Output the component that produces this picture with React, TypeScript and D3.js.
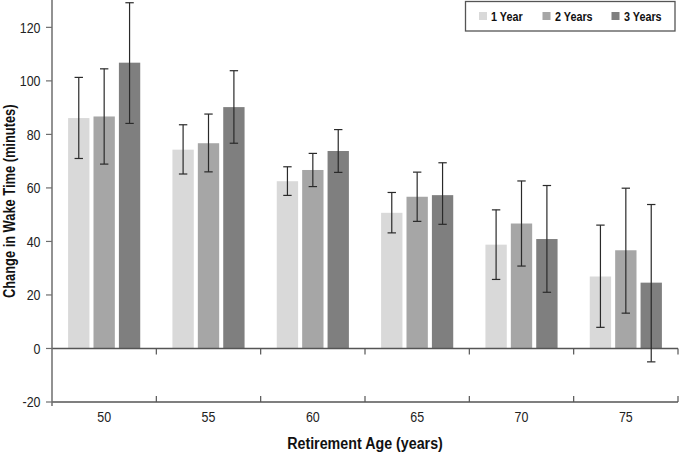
import React from "react";
import * as d3 from "d3";

const ages = ["50", "55", "60", "65", "70", "75"];
const seriesNames = ["1 Year", "2 Years", "3 Years"];
const seriesColors = ["#d9d9d9", "#a6a6a6", "#7f7f7f"];

const oneYear = [86.1, 74.3, 62.5, 50.7, 38.8, 26.9];
const oneYearLow = [71.0, 65.2, 57.2, 43.2, 25.8, 7.9];
const oneYearHigh = [101.3, 83.6, 67.9, 58.3, 51.8, 46.1];

const twoYears = [86.7, 76.7, 66.7, 56.7, 46.7, 36.7];
const twoYearsLow = [68.9, 66.0, 60.5, 47.5, 30.8, 13.2];
const twoYearsHigh = [104.5, 87.6, 72.9, 65.9, 62.6, 59.9];

const threeYears = [106.8, 90.2, 73.8, 57.3, 40.9, 24.6];
const threeYearsLow = [84.1, 76.7, 65.8, 46.4, 21.0, -5.0];
const threeYearsHigh = [129.2, 103.8, 81.8, 69.4, 60.9, 53.8];

const yTicks = [-20, 0, 20, 40, 60, 80, 100, 120];

const W = 679;
const H = 455;
const left = 52;
const right = 678;
const top = 0.6;
const bottom = 402;

const FONT = "'Liberation Sans', Arial, sans-serif";

type NTextProps = {
  x: number;
  y: number;
  sx?: number;
  size: number;
  bold?: boolean;
  anchor?: "start" | "middle" | "end";
  rotate?: number;
  children: React.ReactNode;
};

function NText({ x, y, sx = 0.83, size, bold, anchor = "start", rotate = 0, children }: NTextProps) {
  return (
    <text
      transform={`translate(${x},${y}) rotate(${rotate}) scale(${sx},1)`}
      textAnchor={anchor}
      fontFamily={FONT}
      fontWeight={bold ? "bold" : "normal"}
      fontSize={size}
      fill={bold ? "#111" : "#222"}
    >
      {children}
    </text>
  );
}

export default function App() {
  const x = d3.scaleBand<string>().domain(ages).range([left, right]).paddingInner(0).paddingOuter(0);
  const bw = x.bandwidth();
  const inner = d3
    .scaleBand<string>()
    .domain(seriesNames)
    .range([16.1, bw - 16.1])
    .paddingInner(0.16)
    .paddingOuter(0);
  const y = d3.scaleLinear().domain([-20, 130]).range([bottom, top]);

  const series = [
    { name: seriesNames[0], values: oneYear, low: oneYearLow, high: oneYearHigh, color: seriesColors[0] },
    { name: seriesNames[1], values: twoYears, low: twoYearsLow, high: twoYearsHigh, color: seriesColors[1] },
    { name: seriesNames[2], values: threeYears, low: threeYearsLow, high: threeYearsHigh, color: seriesColors[2] },
  ];

  const boundaries = ages.map((a) => (x(a) as number) + bw);
  const axisColor = "#6e6e6e";
  const y0 = y(0);

  const legendItems = [
    { sx: 479, tx: 491 },
    { sx: 542.5, tx: 555 },
    { sx: 611.5, tx: 624 },
  ];

  return (
    <div style={{ position: "fixed", left: 0, top: 0 }}>
      <svg width={W} height={H} style={{ display: "block", background: "#fff" }}>
        {/* bars */}
        {series.map((s) =>
          ages.map((a, i) => {
            const bx = (x(a) as number) + (inner(s.name) as number);
            const v = s.values[i];
            return (
              <rect
                key={s.name + a}
                x={bx}
                y={y(Math.max(0, v))}
                width={inner.bandwidth()}
                height={Math.abs(y(v) - y0)}
                fill={s.color}
              />
            );
          })
        )}

        {/* zero line */}
        <line x1={left} x2={right} y1={y0} y2={y0} stroke="#555" strokeWidth={1.3} />
        {boundaries.map((bx, i) => (
          <line key={"zt" + i} x1={bx} x2={bx} y1={y0} y2={y0 + 6} stroke="#555" strokeWidth={1.2} />
        ))}

        {/* error bars */}
        {series.map((s) =>
          ages.map((a, i) => {
            const cx = (x(a) as number) + (inner(s.name) as number) + inner.bandwidth() / 2;
            const yl = y(s.low[i]);
            const yh = y(s.high[i]);
            return (
              <g key={"e" + s.name + a} stroke="#2a2a2a" strokeWidth={1.2}>
                <line x1={cx} x2={cx} y1={yh} y2={yl} />
                <line x1={cx - 4.2} x2={cx + 4.2} y1={yh} y2={yh} />
                <line x1={cx - 4.2} x2={cx + 4.2} y1={yl} y2={yl} />
              </g>
            );
          })
        )}

        {/* bottom axis */}
        <line x1={left} x2={right} y1={bottom} y2={bottom} stroke="#555" strokeWidth={1.3} />
        {boundaries.map((bx, i) => (
          <line key={"bt" + i} x1={bx} x2={bx} y1={bottom} y2={bottom - 6} stroke="#555" strokeWidth={1.2} />
        ))}
        {ages.map((a) => (
          <NText key={"xl" + a} x={(x(a) as number) + bw / 2} y={421.5} size={15} anchor="middle">
            {a}
          </NText>
        ))}

        {/* y axis */}
        <line x1={left} x2={left} y1={0} y2={bottom + 4} stroke={axisColor} strokeWidth={1.5} />
        {yTicks.map((t) => (
          <g key={"yt" + t}>
            <line x1={left - 6} x2={left} y1={y(t)} y2={y(t)} stroke={axisColor} strokeWidth={1.2} />
            <NText x={40.5} y={y(t) + 5.2} size={15} anchor="end">
              {t}
            </NText>
          </g>
        ))}

        {/* axis titles */}
        <NText x={(left + right) / 2} y={449} size={17} sx={0.84} bold anchor="middle">
          Retirement Age (years)
        </NText>
        <NText x={14.5} y={(top + bottom) / 2} size={16.5} sx={0.78} bold anchor="middle" rotate={-90}>
          Change in Wake Time (minutes)
        </NText>

        {/* legend */}
        <rect x={465.5} y={1.5} width={209.5} height={29.5} fill="#fff" stroke="#555" strokeWidth={1.3} />
        {series.map((s, i) => (
          <g key={"lg" + s.name}>
            <rect x={legendItems[i].sx} y={12} width={8} height={8} fill={s.color} />
            <NText x={legendItems[i].tx} y={20.5} size={13.5} sx={0.8} bold>
              {s.name}
            </NText>
          </g>
        ))}
      </svg>
    </div>
  );
}
